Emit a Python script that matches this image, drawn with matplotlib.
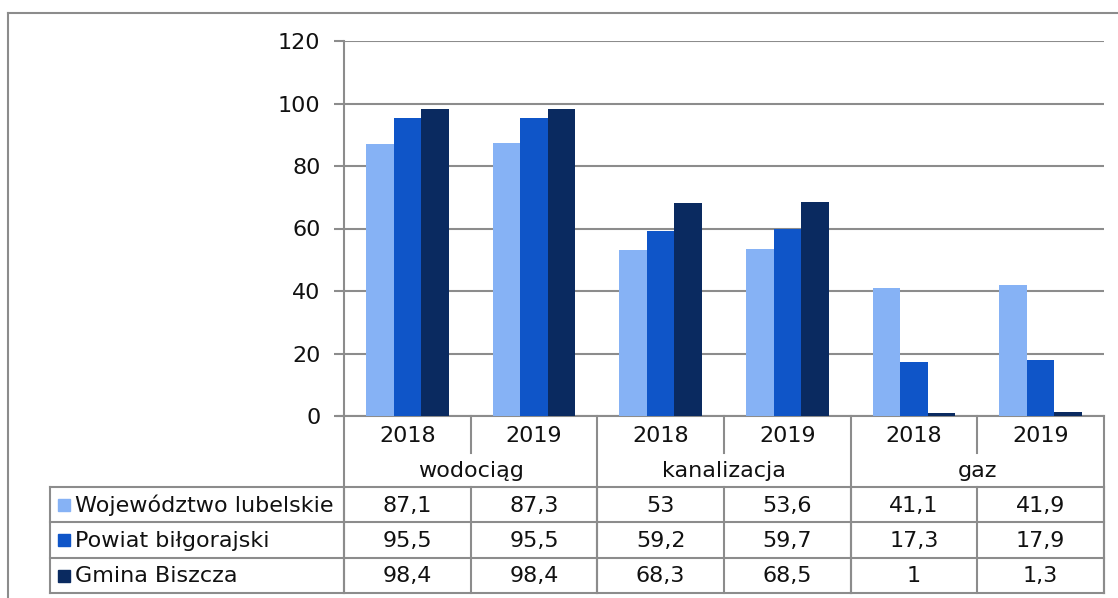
import matplotlib
matplotlib.use("Agg")
import matplotlib.pyplot as plt
from matplotlib.patches import Rectangle
import numpy as np

# data
categories = ["wodociąg", "kanalizacja", "gaz"]
years = ["2018", "2019"]
series_names = ["Województwo lubelskie", "Powiat biłgorajski", "Gmina Biszcza"]
wojewodztwo = [87.1, 87.3, 53, 53.6, 41.1, 41.9]
powiat = [95.5, 95.5, 59.2, 59.7, 17.3, 17.9]
gmina = [98.4, 98.4, 68.3, 68.5, 1, 1.3]
colors = ["#86b2f5", "#0f55c8", "#0a2a60"]

W, H = 1118, 598
grid_col = "#8c8c8c"
fs = 16

plt.rcParams['font.family'] = ['DejaVu Sans']

fig = plt.figure(figsize=(W / 100, H / 100), dpi=100)

# pixel overlay for frame and table
ov = fig.add_axes([0, 0, 1, 1])
ov.set_xlim(0, W)
ov.set_ylim(H, 0)
ov.axis("off")

# plot area in pixels
px_l, px_r, px_t, px_b = 344, 1104, 41, 416
ax = fig.add_axes([px_l / W, 1 - px_b / H, (px_r - px_l) / W, (px_b - px_t) / H])

n = len(wojewodztwo)
x = np.arange(n)
bw = 0.217
all_series = [wojewodztwo, powiat, gmina]
for i, vals in enumerate(all_series):
    ax.bar(x + (i - 1) * bw, vals, bw, color=colors[i], zorder=3)

ax.set_xlim(-0.5, n - 0.5)
ax.set_ylim(0, 120)
ax.set_yticks(range(0, 121, 20))
ax.yaxis.grid(True, color=grid_col, linewidth=1.5, zorder=0)
ax.set_xticks([])
for s in ["top", "right", "bottom"]:
    ax.spines[s].set_visible(False)
ax.spines["left"].set_color(grid_col)
ax.spines["left"].set_linewidth(1.5)
ax.tick_params(axis="y", length=7, width=1.5, color=grid_col, labelsize=fs, pad=10,
               labelcolor="#111111")
ax.patch.set_visible(False)

# outer frame
lw = 1.5
ov.plot([8, 8], [13, H], color=grid_col, lw=lw)
ov.plot([8, W], [13, 13], color=grid_col, lw=lw)

# table geometry
col_w = (px_r - px_l) / n
col_x = [px_l + k * col_w for k in range(n + 1)]
tab_l = 50
y_axis = px_b
y_year = 453
y_cat = 487
row_y = [487, 522, 558, 593]

# x axis line
ov.plot([337, px_r], [y_axis, y_axis], color=grid_col, lw=lw)
# year dividers
for k in range(1, n, 2):
    ov.plot([col_x[k], col_x[k]], [y_axis, y_year], color=grid_col, lw=lw)
# category boundaries
for k in range(0, n + 1, 2):
    ov.plot([col_x[k], col_x[k]], [y_axis, row_y[-1]], color=grid_col, lw=lw)
# data rows horizontal lines
for yy in row_y:
    ov.plot([tab_l, px_r], [yy, yy], color=grid_col, lw=lw)
# data rows vertical lines
for xx in [tab_l] + col_x:
    ov.plot([xx, xx], [row_y[0], row_y[-1]], color=grid_col, lw=lw)

# year labels and category labels
for k in range(n):
    ov.text((col_x[k] + col_x[k + 1]) / 2, (y_axis + y_year) / 2 + 1, years[k % 2],
            ha="center", va="center", fontsize=fs, color="#111111")
for c, name in enumerate(categories):
    ov.text(col_x[2 * c + 1], (y_year + y_cat) / 2 + 1, name,
            ha="center", va="center", fontsize=fs, color="#111111")

# series rows
for r, vals in enumerate(all_series):
    yc = (row_y[r] + row_y[r + 1]) / 2
    ov.add_patch(Rectangle((58, yc - 6), 12, 12, color=colors[r]))
    ov.text(75, yc + 1, series_names[r], ha="left", va="center", fontsize=fs, color="#111111")
    for k, v in enumerate(vals):
        ov.text((col_x[k] + col_x[k + 1]) / 2, yc + 1, f"{v:g}".replace(".", ","),
                ha="center", va="center", fontsize=fs, color="#111111")

fig.savefig("out.png", dpi=100)
